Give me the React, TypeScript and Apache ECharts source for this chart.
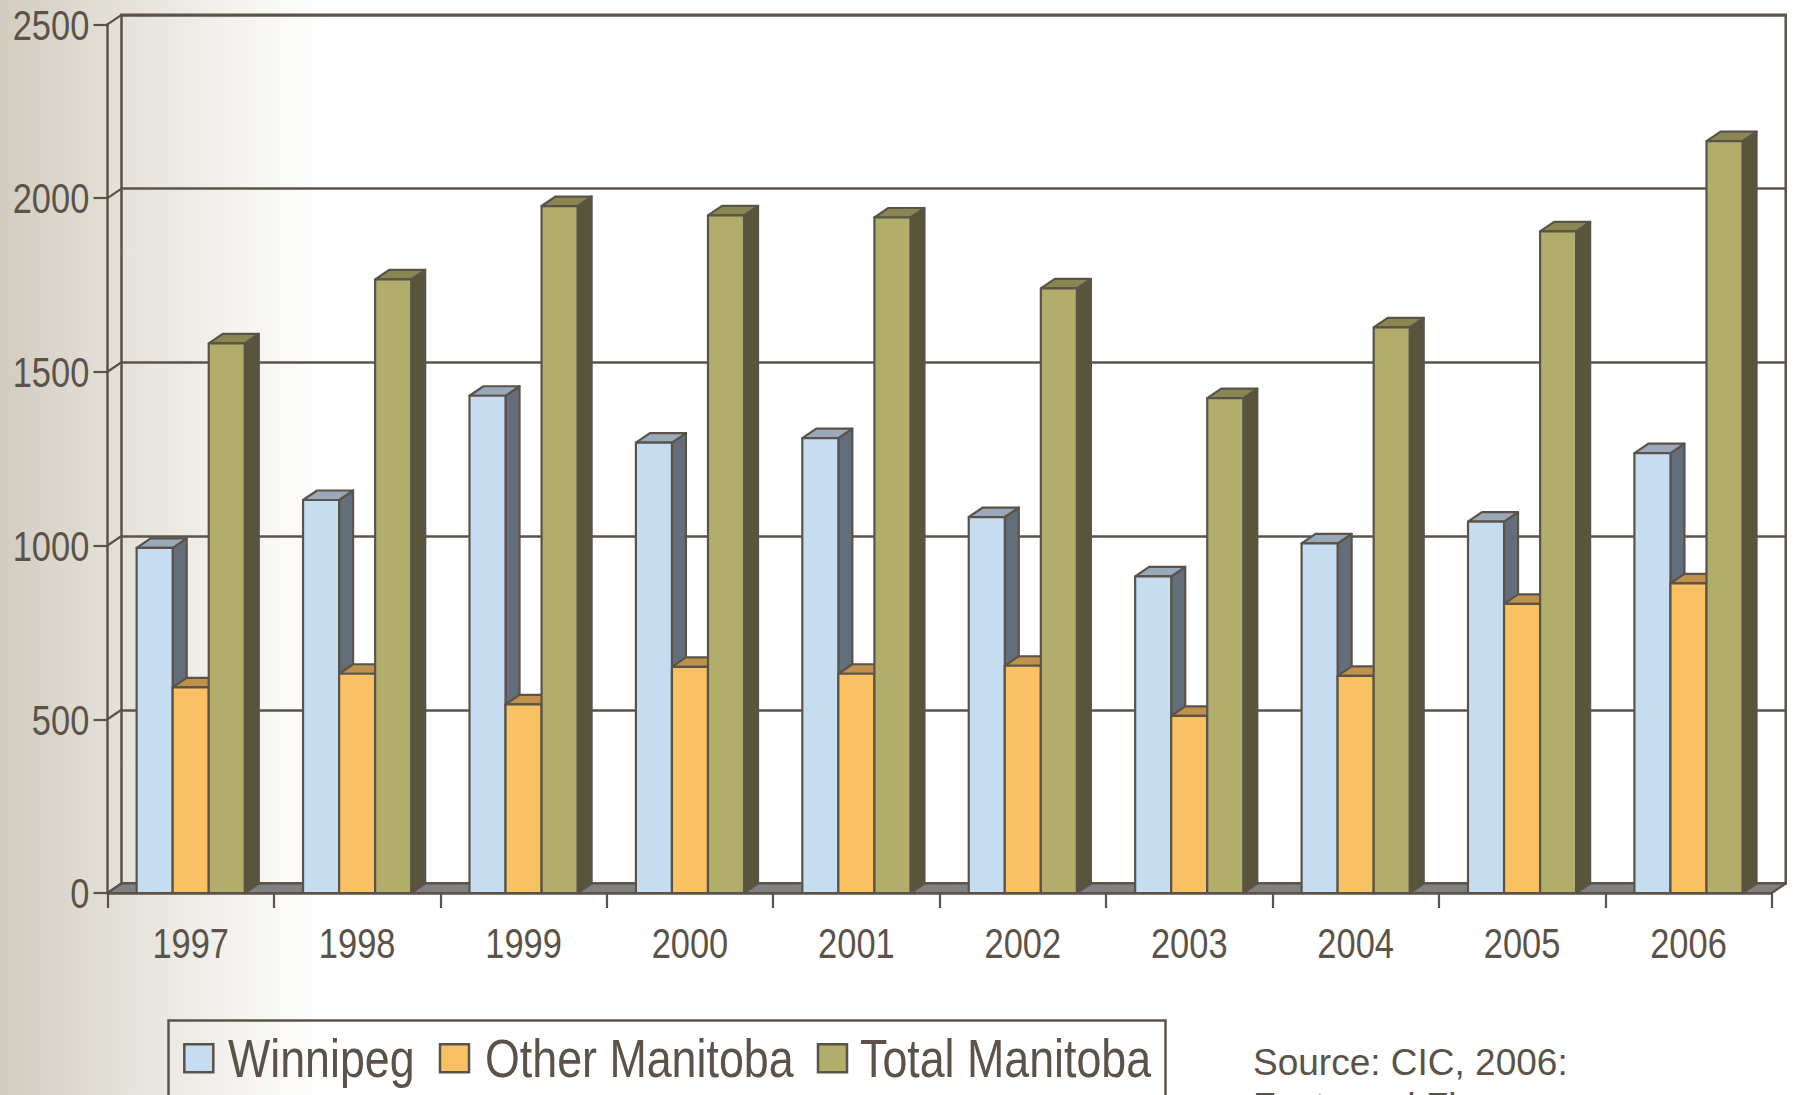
import React, { useEffect, useRef } from "react";
import * as echarts from "echarts";

const years = ["1997", "1998", "1999", "2000", "2001", "2002", "2003", "2004", "2005", "2006"];
const winnipeg = [993, 1131, 1431, 1296, 1309, 1082, 911, 1006, 1069, 1266];
const otherManitoba = [592, 631, 543, 651, 631, 654, 510, 625, 832, 891];
const totalManitoba = [1582, 1766, 1977, 1950, 1944, 1740, 1424, 1628, 1904, 2164];
const yTicks = [0, 500, 1000, 1500, 2000, 2500];
const seriesNames = ["Winnipeg", "Other Manitoba", "Total Manitoba"];
const sourceLines = ["Source: CIC, 2006:", "Facts and Figures"];

const INK = "#5b5349";
const SANS = "'Liberation Sans', Arial, sans-serif";
const DX = 14;
const DY = -9.5;
const BAR_FRAC = 0.2166;
const AXIS_SCALE_X = 0.82;

const palette = [
  { front: "#c6dcf0", top: "#98a9ba", side: "#646e7a" },
  { front: "#f8c163", top: "#c0914a", side: "#8a6a3a" },
  { front: "#b1ad6b", top: "#898651", side: "#58553a" },
];

function barRenderer(k: number) {
  const c = palette[k];
  return (params: any, api: any) => {
    const i = api.value(0);
    const v = api.value(1);
    const base = api.coord([i, 0]);
    const top = api.coord([i, v]);
    const band = api.size([1, 0])[0];
    const w = band * BAR_FRAC;
    const left = base[0] + (k - 1.5) * w;
    const right = left + w;
    const yT = top[1];
    const yB = base[1];
    const line = { stroke: INK, lineWidth: 2.2, lineJoin: "round" };
    return {
      type: "group",
      children: [
        {
          type: "polygon",
          shape: { points: [[right, yT], [right + DX, yT + DY], [right + DX, yB + DY], [right, yB]] },
          style: { fill: c.side, ...line },
        },
        {
          type: "polygon",
          shape: { points: [[left, yT], [left + DX, yT + DY], [right + DX, yT + DY], [right, yT]] },
          style: { fill: c.top, ...line },
        },
        {
          type: "rect",
          shape: { x: left, y: yT, width: w, height: yB - yT },
          style: { fill: c.front, ...line },
        },
      ],
    };
  };
}

function frameRenderer(params: any, api: any) {
  const cs = params.coordSys;
  const v = api.value(1);
  const y = api.coord([0, v])[1];
  const x0 = cs.x;
  const x1 = cs.x + cs.width;
  const children: any[] = [
    {
      type: "line",
      shape: { x1: x0, y1: y, x2: x0 + DX, y2: y + DY },
      style: { stroke: INK, lineWidth: 2.2 },
    },
  ];
  if (v === 0) {
    children.push({
      type: "polygon",
      shape: { points: [[x0, y], [x1, y], [x1 + DX, y + DY], [x0 + DX, y + DY]] },
      style: { fill: "#808080", stroke: INK, lineWidth: 2.2, lineJoin: "round" },
    });
  }
  return { type: "group", children };
}

function xLabelRenderer(params: any, api: any) {
  const p = api.coord([api.value(0), 0]);
  return {
    type: "text",
    x: p[0],
    y: p[1] + 50.5,
    scaleX: AXIS_SCALE_X,
    style: {
      x: 0,
      y: 0,
      text: years[params.dataIndex],
      fill: INK,
      font: `42px ${SANS}`,
      align: "center",
      verticalAlign: "middle",
    },
  };
}

function yLabelRenderer(params: any, api: any) {
  const cs = params.coordSys;
  const v = api.value(1);
  const y = api.coord([0, v])[1];
  return {
    type: "text",
    x: cs.x - 18.2,
    y: y + 0.5,
    scaleX: AXIS_SCALE_X,
    style: {
      x: 0,
      y: 0,
      text: String(yTicks[params.dataIndex]),
      fill: INK,
      font: `42px ${SANS}`,
      align: "right",
      verticalAlign: "middle",
    },
  };
}

const legendSquareX = [184.3, 440, 818];
const legendTextX = [228, 485, 860];

export default function App() {
  const ref = useRef<HTMLDivElement>(null);
  useEffect(() => {
    if (!ref.current) return;
    const chart = echarts.init(ref.current, null, { renderer: "svg" });
    const gL = 107.5;
    const gT = 24.3;
    const gR = 1793 - 1771.7;
    const gB = 1095 - 893;

    const legendChildren: any[] = [
      {
        type: "rect",
        shape: { x: 168.5, y: 1020.5, width: 997, height: 120 },
        style: { fill: "none", stroke: INK, lineWidth: 2.5 },
      },
    ];
    seriesNames.forEach((name, k) => {
      legendChildren.push({
        type: "rect",
        shape: { x: legendSquareX[k], y: 1044.3, width: 29, height: 28 },
        style: { fill: palette[k].front, stroke: INK, lineWidth: 2.5 },
      });
      legendChildren.push({
        type: "text",
        x: legendTextX[k],
        y: 1058.3,
        scaleX: 0.845,
        style: {
          x: 0,
          y: 0,
          text: name,
          fill: INK,
          font: `53px ${SANS}`,
          align: "left",
          verticalAlign: "middle",
        },
      });
    });

    chart.setOption({
      animation: false,
      backgroundColor: {
        type: "linear",
        x: 0,
        y: 0,
        x2: 1,
        y2: 0,
        colorStops: [
          { offset: 0, color: "#d2cbbf" },
          { offset: 0.05, color: "#e0dcd3" },
          { offset: 0.11, color: "#efede8" },
          { offset: 0.18, color: "#ffffff" },
          { offset: 1, color: "#ffffff" },
        ],
      },
      grid: [
        { left: gL, top: gT, right: gR, bottom: gB, containLabel: false, outerBoundsMode: "none" },
        {
          left: gL + DX,
          top: gT + DY,
          right: gR - DX,
          bottom: gB - DY,
          show: true,
          borderColor: INK,
          borderWidth: 2.5,
          backgroundColor: "transparent",
          containLabel: false,
          outerBoundsMode: "none",
        },
      ],
      xAxis: [
        {
          type: "category",
          data: years,
          gridIndex: 0,
          axisLine: { show: true, lineStyle: { color: INK, width: 2.5 } },
          axisTick: { show: true, length: 15, lineStyle: { color: INK, width: 2.2 } },
          axisLabel: { show: false },
          splitLine: { show: false },
        },
        {
          type: "category",
          data: years,
          gridIndex: 1,
          show: false,
        },
      ],
      yAxis: [
        {
          type: "value",
          gridIndex: 0,
          min: 0,
          max: 2500,
          interval: 500,
          axisLine: { show: true, lineStyle: { color: INK, width: 2.5 } },
          axisTick: { show: true, length: 14, lineStyle: { color: INK, width: 2.2 } },
          axisLabel: { show: false },
          splitLine: { show: false },
        },
        {
          type: "value",
          gridIndex: 1,
          min: 0,
          max: 2500,
          interval: 500,
          axisLine: { show: false },
          axisTick: { show: false },
          axisLabel: { show: false },
          splitLine: { show: true, lineStyle: { color: INK, width: 2.5 } },
        },
      ],
      legend: { show: false },
      graphic: [
        { type: "group", children: legendChildren },
        {
          type: "text",
          x: 1253,
          y: 1062.2,
          style: { x: 0, y: 0, text: sourceLines[0], fill: INK, font: `37px ${SANS}`, verticalAlign: "middle" },
        },
        {
          type: "text",
          x: 1253,
          y: 1106.5,
          style: { x: 0, y: 0, text: sourceLines[1], fill: INK, font: `37px ${SANS}`, verticalAlign: "middle" },
        },
      ],
      series: [
        {
          type: "custom",
          name: "frame",
          xAxisIndex: 0,
          yAxisIndex: 0,
          z: 1,
          silent: true,
          renderItem: frameRenderer,
          encode: { x: 0, y: 1 },
          data: yTicks.map((v) => [0, v]),
        },
        ...[winnipeg, otherManitoba, totalManitoba].map((vals, k) => ({
          type: "custom",
          name: seriesNames[k],
          xAxisIndex: 0,
          yAxisIndex: 0,
          z: 2 + k,
          renderItem: barRenderer(k),
          encode: { x: 0, y: 1 },
          itemStyle: { color: palette[k].front },
          data: vals.map((v, i) => [i, v]),
        })),
        {
          type: "custom",
          name: "xLabels",
          xAxisIndex: 0,
          yAxisIndex: 0,
          z: 6,
          silent: true,
          clip: false,
          renderItem: xLabelRenderer,
          encode: { x: 0, y: 1 },
          data: years.map((_, i) => [i, 0]),
        },
        {
          type: "custom",
          name: "yLabels",
          xAxisIndex: 0,
          yAxisIndex: 0,
          z: 6,
          silent: true,
          clip: false,
          renderItem: yLabelRenderer,
          encode: { x: 0, y: 1 },
          data: yTicks.map((v) => [0, v]),
        },
      ],
    });
    return () => chart.dispose();
  }, []);
  return (
    <div
      ref={ref}
      style={{ position: "absolute", left: 0, top: 0, width: 1793, height: 1095, overflow: "hidden" }}
    />
  );
}
